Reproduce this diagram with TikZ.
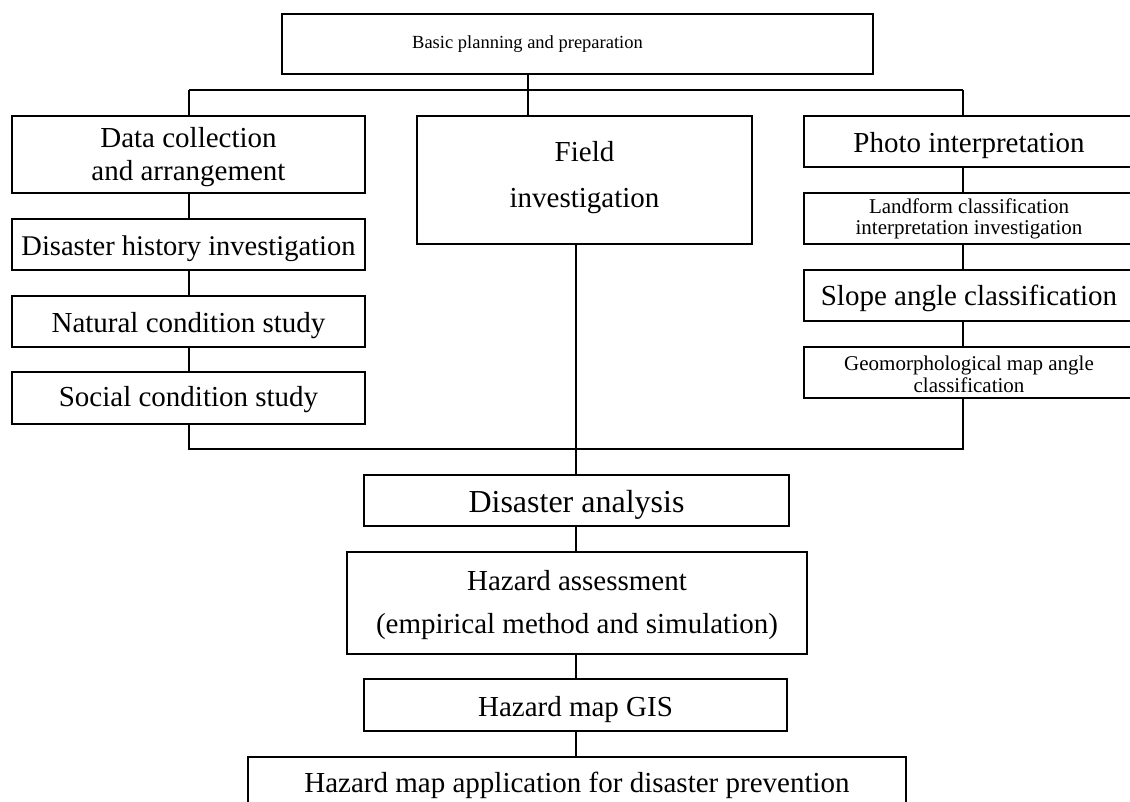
\documentclass[tikz,border=0pt]{standalone}
\usepackage{fontspec}
\setmainfont{Liberation Serif}
\newcommand\fsz[2]{\fontsize{#1}{#2}\selectfont}
\begin{document}
\begin{tikzpicture}[x=1pt,y=-1pt,
  box/.style={draw, line width=1.2pt, inner sep=0pt, align=center},
  sh/.style={execute at begin node={\rule{0pt}{#1}}},
  conn/.style={line width=1.2pt}]
\useasboundingbox (0,0) rectangle (1130,801);
\clip (0,0) rectangle (1130,801);
% top
\node[box, minimum width=591pt, minimum height=60pt] (top) at (577.5,44) {};
\node[inner sep=0pt, font=\fsz{18.5}{22}] (toptext) at (527.5,44) {Basic planning and preparation};
% left column
\node[box, minimum width=353pt, minimum height=77pt, font=\fsz{29}{33}] (dc) at (188.5,154.5) {\rule{0pt}{26pt}Data collection\\and arrangement};
\node[box, sh=27.5pt, minimum width=353pt, minimum height=51pt, font=\fsz{28.5}{33}] (dh) at (188.5,244.5) {Disaster history investigation};
\node[box, sh=28pt, minimum width=353pt, minimum height=51pt, font=\fsz{29}{33}] (nc) at (188.5,321.5) {Natural condition study};
\node[box, sh=24pt, minimum width=353pt, minimum height=52pt, font=\fsz{29}{33}] (sc) at (188.5,398) {Social condition study};
% field
\node[box, minimum width=335pt, minimum height=128pt, font=\fsz{29}{46}] (field) at (584.5,180) {Field\\investigation\rule[-12pt]{0pt}{1pt}};
% right column
\node[box, sh=28pt, minimum width=330pt, minimum height=51pt, font=\fsz{29}{33}] (pi) at (969,141.5) {Photo interpretation};
\node[box, minimum width=330pt, minimum height=51pt, font=\fsz{21}{21}] (lc) at (969,218.5) {Landform classification\\interpretation investigation};
\node[box, sh=26pt, minimum width=330pt, minimum height=51pt, font=\fsz{29}{33}] (sa) at (969,295.5) {Slope angle classification};
\node[box, minimum width=330pt, minimum height=51pt, font=\fsz{21}{22}] (gm) at (969,372.5) {\rule{0pt}{17.3pt}Geomorphological map angle\\classification};
% lower chain
\node[box, sh=30pt, minimum width=425pt, minimum height=51pt, font=\fsz{32}{36}] (da) at (576.5,500.5) {Disaster analysis};
\node[box, minimum width=460pt, minimum height=102pt, font=\fsz{29}{43}] (ha) at (577,603) {\rule{0pt}{24pt}Hazard assessment\\(empirical method and simulation)};
\node[box, sh=29.8pt, minimum width=423pt, minimum height=52pt, font=\fsz{29}{33}] (gis) at (575.5,705) {Hazard map GIS};
\node[box, minimum width=658pt, minimum height=56pt, font=\fsz{29}{33}] (app) at (577,785) {Hazard map application for disaster prevention};
% junctions
\coordinate (jt) at (528,90);
\coordinate (jl) at (189,90);
\coordinate (jr) at (963,90);
\coordinate (bl) at (189,449);
\coordinate (br) at (963,449);
\coordinate (bm) at (576,449);
% connectors
\draw[conn] (top.south -| jt) -- (field.north -| jt);
\draw[conn] (jl) -- (jr);
\draw[conn] (jl) -- (dc.north -| jl);
\draw[conn] (jr) -- (pi.north -| jr);
\draw[conn] (dc.south -| jl) -- (dh.north -| jl);
\draw[conn] (dh.south -| jl) -- (nc.north -| jl);
\draw[conn] (nc.south -| jl) -- (sc.north -| jl);
\draw[conn] (pi.south -| jr) -- (lc.north -| jr);
\draw[conn] (lc.south -| jr) -- (sa.north -| jr);
\draw[conn] (sa.south -| jr) -- (gm.north -| jr);
\draw[conn] (sc.south -| bl) -- (bl) -- (br) -- (gm.south -| br);
\draw[conn] (field.south -| bm) -- (da.north -| bm);
\draw[conn] (da.south -| bm) -- (ha.north -| bm);
\draw[conn] (ha.south -| bm) -- (gis.north -| bm);
\draw[conn] (gis.south -| bm) -- (app.north -| bm);
\end{tikzpicture}
\end{document}
